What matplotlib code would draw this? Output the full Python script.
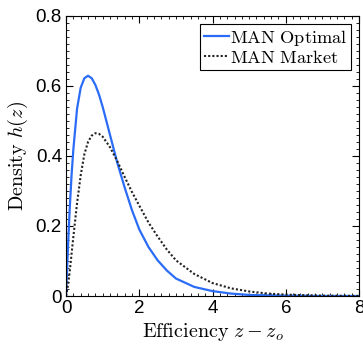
import matplotlib
matplotlib.use("Agg")
import matplotlib.pyplot as plt
from matplotlib.ticker import MultipleLocator, FuncFormatter

# values
z_opt = [0, 0.05, 0.1, 0.15, 0.2, 0.3, 0.4, 0.5, 0.6, 0.7, 0.8, 0.9, 1.0, 1.1, 1.2, 1.3,
         1.4, 1.6, 1.8, 2.0, 2.25, 2.5, 2.75, 3.0, 3.5, 4.0, 4.5, 5.0, 6.0, 7.0, 8.0]
h_opt = [0, 0.135, 0.25, 0.345, 0.42, 0.535, 0.595, 0.622, 0.629, 0.622, 0.603, 0.575, 0.54, 0.50, 0.46, 0.42,
         0.38, 0.31, 0.245, 0.19, 0.14, 0.102, 0.073, 0.05, 0.026, 0.014, 0.007, 0.003, 0.001, 0.0, 0.0]

z_mkt = [0, 0.05, 0.1, 0.2, 0.3, 0.4, 0.5, 0.6, 0.7, 0.8, 0.9, 1.0, 1.2, 1.4, 1.6, 1.8,
         2.0, 2.25, 2.5, 2.75, 3.0, 3.5, 4.0, 4.5, 5.0, 5.5, 6.0, 7.0, 8.0]
h_mkt = [0, 0.03, 0.07, 0.17, 0.265, 0.345, 0.405, 0.44, 0.458, 0.465, 0.463, 0.455, 0.425, 0.385, 0.34, 0.297,
         0.258, 0.21, 0.17, 0.133, 0.102, 0.063, 0.037, 0.022, 0.013, 0.007, 0.004, 0.001, 0.0003]

plt.rcParams['mathtext.fontset'] = 'cm'
plt.rcParams['font.family'] = 'Liberation Sans'

fig = plt.figure(figsize=(3.63, 3.45), dpi=100)
ax = fig.add_axes([0.182, 0.142, 0.807, 0.812])

ax.plot(z_opt, h_opt, color='#2b6cf6', lw=1.6, label=r'$\mathrm{MAN\ Optimal}$')
ax.plot(z_mkt, h_mkt, color='#222222', lw=1.5, ls=(0, (1, 1)), label=r'$\mathrm{MAN\ Market}$')

ax.set_xlim(0, 8)
ax.set_ylim(0, 0.8)
ax.xaxis.set_major_locator(MultipleLocator(2))
ax.xaxis.set_minor_locator(MultipleLocator(0.2))
ax.yaxis.set_major_locator(MultipleLocator(0.2))
ax.yaxis.set_minor_locator(MultipleLocator(0.02))
ax.yaxis.set_major_formatter(FuncFormatter(lambda v, p: '0' if abs(v) < 1e-9 else f'{v:.1f}'))
ax.xaxis.set_major_formatter(FuncFormatter(lambda v, p: f'{v:.0f}'))
ax.tick_params(which='both', direction='in', top=True, right=True, labelsize=13.5)
ax.tick_params(which='major', length=5, width=0.8, pad=3)
ax.tick_params(which='minor', length=2.5, width=0.6)

ax.set_xlabel(r'$\mathrm{Efficiency}\ z - z_o$', fontsize=14.5, labelpad=3)
ax.set_ylabel(r'$\mathrm{Density}\ h(z)$', fontsize=14.5, labelpad=4)

leg = ax.legend(loc='upper right', fontsize=13.2, handlelength=1.35, handletextpad=0.05,
                borderpad=0.2, labelspacing=0.1, borderaxespad=0.45, fancybox=False, framealpha=1)
leg.get_frame().set_edgecolor('black')
leg.get_frame().set_linewidth(0.8)

fig.savefig('out.png', dpi=100)
